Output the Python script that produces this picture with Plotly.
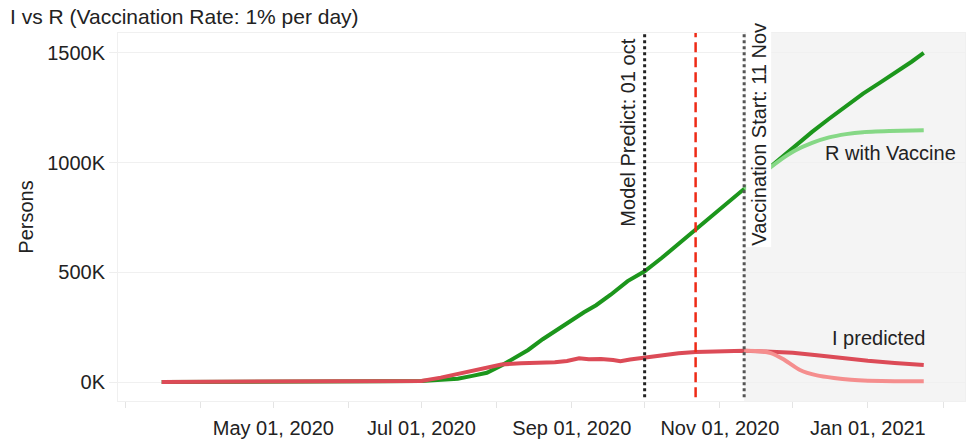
import plotly.graph_objects as go

# Recovered (R) without vaccination: observed + model projection
r_dates = ["2020-03-16", "2020-04-01", "2020-04-15", "2020-05-01", "2020-05-15", "2020-06-01",
           "2020-06-15", "2020-07-01", "2020-07-09", "2020-07-16", "2020-07-22", "2020-07-28",
           "2020-08-03", "2020-08-08", "2020-08-14", "2020-08-20", "2020-08-26", "2020-09-01",
           "2020-09-06", "2020-09-11", "2020-09-17", "2020-09-24", "2020-10-01", "2020-10-08",
           "2020-10-15", "2020-10-22", "2020-10-29", "2020-11-05", "2020-11-11", "2020-11-18",
           "2020-11-25", "2020-12-02", "2020-12-09", "2020-12-16", "2020-12-23", "2020-12-30",
           "2021-01-06", "2021-01-13", "2021-01-19", "2021-01-24"]
r_values = [0, 0, 500, 1000, 1500, 2500,
            3500, 5000, 9000, 15000, 28000, 42000,
            75000, 105000, 146000, 195000, 240000, 285000,
            318000, 350000, 398000, 460000, 505000, 565000,
            630000, 700000, 760000, 825000, 880000, 945000,
            1010000, 1075000, 1140000, 1200000, 1260000, 1315000,
            1365000, 1415000, 1460000, 1500000]

# Recovered (R) with 1%/day vaccination from 11 Nov
rv_dates = ["2020-11-11", "2020-11-18", "2020-11-25", "2020-12-02", "2020-12-09", "2020-12-16",
            "2020-12-23", "2020-12-30", "2021-01-10", "2021-01-24"]
rv_values = [880000, 945000, 1005000, 1055000, 1090000, 1115000,
             1130000, 1139000, 1144000, 1148000]

# Infected (I): observed + model projection
i_dates = ["2020-03-16", "2020-04-15", "2020-05-15", "2020-06-15", "2020-07-01", "2020-07-09",
           "2020-07-20", "2020-07-26", "2020-08-03", "2020-08-11", "2020-08-19", "2020-08-25",
           "2020-08-30", "2020-09-04", "2020-09-08", "2020-09-13", "2020-09-18", "2020-09-21",
           "2020-09-25", "2020-10-01", "2020-10-08", "2020-10-15", "2020-10-22", "2020-11-01",
           "2020-11-11", "2020-11-20", "2020-12-01", "2020-12-11", "2020-12-21", "2021-01-01",
           "2021-01-12", "2021-01-24"]
i_values = [0, 500, 1000, 2000, 5000, 20000,
            46000, 62000, 80000, 86000, 87000, 90000,
            96000, 108000, 104000, 105000, 100000, 95000,
            103000, 112000, 124000, 131000, 137000, 140000,
            142000, 139000, 133000, 122000, 108000, 97000,
            87000, 78000]

# Infected (I) with vaccination
iv_dates = ["2020-11-11", "2020-11-18", "2020-11-22", "2020-11-27", "2020-12-04", "2020-12-11",
            "2020-12-18", "2020-12-25", "2021-01-01", "2021-01-12", "2021-01-24"]
iv_values = [142000, 140000, 132000, 105000, 55000, 30000,
             18000, 10000, 6000, 4000, 4000]

# Axis ticks
y_ticks = [0, 500000, 1000000, 1500000]
y_labels = ["0K", "500K", "1000K", "1500K"]
x_ticks = ["2020-03-01", "2020-04-01", "2020-05-01", "2020-06-01", "2020-07-01", "2020-08-01",
           "2020-09-01", "2020-10-01", "2020-11-01", "2020-12-01", "2021-01-01", "2021-02-01"]
x_labels = ["", "", "May 01, 2020", "", "Jul 01, 2020", "", "Sep 01, 2020", "",
            "Nov 01, 2020", "", "Jan 01, 2021", ""]

# Key dates
predict_date = "2020-10-01"
today_date = "2020-10-22"
vaccine_date = "2020-11-11"
x_range = ["2020-02-27", "2021-02-10"]

FONT = "Liberation Sans, Arial, Helvetica, sans-serif"
GREEN = "#1c961c"
LIGHT_GREEN = "#86d886"
RED = "#dc4b57"
LIGHT_RED = "#f58e8e"

fig = go.Figure()
fig.add_trace(go.Scatter(x=r_dates, y=r_values, mode="lines",
                         line=dict(color=GREEN, width=4), name="R"))
fig.add_trace(go.Scatter(x=i_dates, y=i_values, mode="lines",
                         line=dict(color=RED, width=4), name="I"))
fig.add_trace(go.Scatter(x=rv_dates, y=rv_values, mode="lines",
                         line=dict(color=LIGHT_GREEN, width=4, shape="spline", smoothing=0.6),
                         name="R with Vaccine"))
fig.add_trace(go.Scatter(x=iv_dates, y=iv_values, mode="lines",
                         line=dict(color=LIGHT_RED, width=4, shape="spline", smoothing=0.6),
                         name="I with Vaccine"))

# Vaccination period background
fig.add_shape(type="rect", xref="x", yref="paper", x0=vaccine_date, x1=x_range[1],
              y0=0, y1=1, fillcolor="#f4f4f4", line_width=0, layer="below")
# Marker lines
fig.add_shape(type="line", xref="x", yref="paper", x0=predict_date, x1=predict_date,
              y0=0.01, y1=1, line=dict(color="#222222", width=3, dash="dot"), layer="above")
fig.add_shape(type="line", xref="x", yref="paper", x0=vaccine_date, x1=vaccine_date,
              y0=0.01, y1=1, line=dict(color="#555555", width=3, dash="dot"), layer="above")
fig.add_shape(type="line", xref="x", yref="paper", x0=today_date, x1=today_date,
              y0=0.01, y1=1, line=dict(color="#ee2a16", width=2.5, dash="10px,5px"), layer="above")

fig.add_annotation(x=predict_date, y=1, xref="x", yref="paper", text="Model Predict: 01 oct",
                   textangle=-90, showarrow=False, xanchor="right", yanchor="top",
                   xshift=-4, yshift=-4, font=dict(family=FONT, size=20, color="#222"))
fig.add_annotation(x=vaccine_date, y=1, xref="x", yref="paper", text="Vaccination Start: 11 Nov",
                   textangle=-90, showarrow=False, xanchor="left", yanchor="top",
                   xshift=1, yshift=12, bgcolor="white",
                   font=dict(family=FONT, size=20, color="#222"))
fig.add_annotation(x=0.992, y=1044000, xref="paper", yref="y", text="R with Vaccine",
                   showarrow=False, xanchor="right", yanchor="middle",
                   font=dict(family=FONT, size=20, color="#222"))
fig.add_annotation(x=rv_dates[-1], y=200000, xref="x", yref="y", text="I predicted",
                   showarrow=False, xanchor="right", yanchor="middle", xshift=3,
                   font=dict(family=FONT, size=20, color="#222"))

fig.update_layout(
    width=973, height=440,
    margin=dict(l=118, r=8, t=33, b=39),
    paper_bgcolor="white", plot_bgcolor="white",
    showlegend=False,
    font=dict(family=FONT, size=20, color="#222"),
    title=dict(text="I vs R (Vaccination Rate: 1% per day)", x=0.0103, xanchor="left",
               y=1 - 17 / 440, yanchor="middle", font=dict(family=FONT, size=21, color="#222")),
)
fig.update_xaxes(range=x_range, tickvals=x_ticks, ticktext=x_labels, automargin=False,
                 ticks="outside", ticklen=6, tickcolor="#e4e4e4", ticklabelstandoff=3,
                 showgrid=False, zeroline=False,
                 showline=True, linecolor="#f0f0f0", mirror=True,
                 tickfont=dict(family=FONT, size=20, color="#222"))
fig.update_yaxes(range=[-86600, 1591000], tickvals=y_ticks, ticktext=y_labels, automargin=False,
                 ticks="outside", ticklen=8, tickcolor="#eeeeee",
                 showgrid=True, gridcolor="#f0f0f0", zeroline=False,
                 showline=True, linecolor="#f0f0f0", mirror=True,
                 title=dict(text="Persons", standoff=8, font=dict(family=FONT, size=20, color="#222")),
                 tickfont=dict(family=FONT, size=20, color="#222"))

fig.write_html("out.html")
